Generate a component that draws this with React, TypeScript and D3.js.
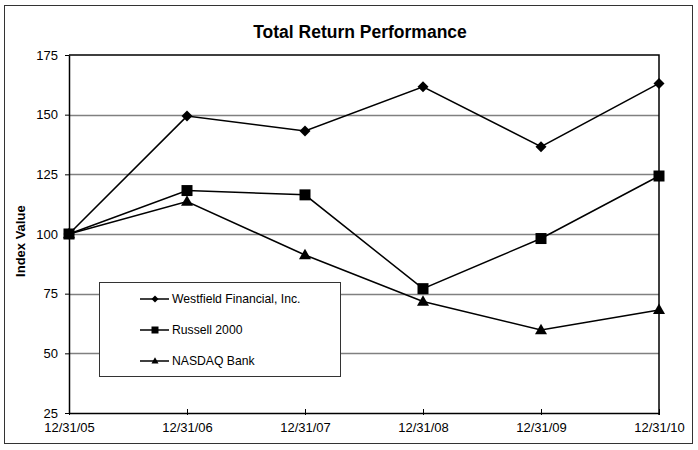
import * as d3 from "d3";
import { useEffect, useRef } from "react";

const dates = ["12/31/05", "12/31/06", "12/31/07", "12/31/08", "12/31/09", "12/31/10"];
const westfield = [100, 149.4, 143.2, 161.7, 136.6, 163.1];
const russell = [100, 118.2, 116.4, 77.1, 98.1, 124.3];
const nasdaqBank = [100, 113.6, 91.2, 71.7, 59.8, 68.2];
const yTicks = [25, 50, 75, 100, 125, 150, 175];

const seriesList = [
  { name: "Westfield Financial, Inc.", values: westfield, shape: "diamond" },
  { name: "Russell 2000", values: russell, shape: "square" },
  { name: "NASDAQ Bank", values: nasdaqBank, shape: "triangle" },
];

// marker path; r is half width
const marker = (shape: string, r: number) => {
  if (shape === "diamond") return `M0,${-r}L${r},0L0,${r}L${-r},0Z`;
  if (shape === "square") return `M${-r},${-r}H${r}V${r}H${-r}Z`;
  const h = r * 1.75;
  return `M0,${-h * 0.6}L${r},${h * 0.4}L${-r},${h * 0.4}Z`;
};

const markerSize: Record<string, number> = { diamond: 5.5, square: 5.5, triangle: 6 };

const App = () => {
  const svgRef = useRef<SVGSVGElement | null>(null);

  useEffect(() => {
    const width = 698;
    const height = 450;
    const margin = { top: 55, right: 39, bottom: 37, left: 69 };
    const font = "Liberation Sans, Arial, sans-serif";

    d3.select(svgRef.current).selectAll("*").remove();

    const svg = d3
      .select(svgRef.current)
      .attr("width", width)
      .attr("height", height)
      .style("font-family", font);

    // outer frame
    svg
      .append("rect")
      .attr("x", 4.5)
      .attr("y", 5.5)
      .attr("width", 688)
      .attr("height", 438)
      .attr("fill", "white")
      .attr("stroke", "#333")
      .attr("stroke-width", 1);

    svg
      .append("text")
      .attr("x", 360)
      .attr("y", 37.5)
      .attr("text-anchor", "middle")
      .attr("font-size", 17.5)
      .attr("font-weight", "bold")
      .text("Total Return Performance");

    const x = d3
      .scalePoint()
      .domain(dates)
      .range([margin.left, width - margin.right]);

    const y = d3
      .scaleLinear()
      .domain([25, 175])
      .range([height - margin.bottom, margin.top]);

    // gridlines
    svg
      .append("g")
      .selectAll("line")
      .data(yTicks.filter((t) => t !== 25 && t !== 175))
      .join("line")
      .attr("x1", margin.left)
      .attr("x2", width - margin.right)
      .attr("y1", (d) => Math.round(y(d)) + 0.5)
      .attr("y2", (d) => Math.round(y(d)) + 0.5)
      .attr("stroke", "#808080")
      .attr("stroke-width", 1.5);

    // plot frame top / right
    svg
      .append("path")
      .attr("d", `M${margin.left},${y(175)}H${width - margin.right}V${y(25) + 2}`)
      .attr("fill", "none")
      .attr("stroke", "black")
      .attr("stroke-width", 1.5);

    const xAxis = svg
      .append("g")
      .attr("transform", `translate(0,${y(25)})`)
      .call(d3.axisBottom(x).tickSizeInner(-4).tickSizeOuter(0).tickPadding(10));
    xAxis.select(".domain").attr("stroke-width", 1.5);
    xAxis
      .selectAll(".tick line")
      .attr("y2", 2)
      .attr("y1", -4);
    xAxis
      .selectAll("text")
      .attr("font-family", font)
      .attr("font-size", 13)
      .attr("fill", "black");

    const yAxis = svg
      .append("g")
      .attr("transform", `translate(${margin.left},0)`)
      .call(d3.axisLeft(y).tickValues(yTicks).tickSize(4).tickSizeOuter(0).tickPadding(7));
    yAxis.select(".domain").attr("stroke-width", 1.5);
    yAxis
      .selectAll("text")
      .attr("font-family", font)
      .attr("font-size", 13)
      .attr("fill", "black");

    svg
      .append("text")
      .attr("transform", `translate(25,${y(97)}) rotate(-90)`)
      .attr("text-anchor", "middle")
      .attr("font-size", 13)
      .attr("font-weight", "bold")
      .text("Index Value");

    const line = d3
      .line<number>()
      .x((_, i) => x(dates[i]) || 0)
      .y((d) => y(d));

    seriesList.forEach((s) => {
      svg
        .append("path")
        .datum(s.values)
        .attr("d", line)
        .attr("fill", "none")
        .attr("stroke", "black")
        .attr("stroke-width", 1.5);

      svg
        .append("g")
        .selectAll("path")
        .data(s.values)
        .join("path")
        .attr("transform", (d, i) => `translate(${x(dates[i])},${y(d)})`)
        .attr("d", marker(s.shape, markerSize[s.shape]))
        .attr("fill", "black");
    });

    // legend
    const legend = svg.append("g").attr("transform", "translate(99,282)");
    legend
      .append("rect")
      .attr("x", 0.5)
      .attr("y", 0.5)
      .attr("width", 241)
      .attr("height", 94)
      .attr("fill", "white")
      .attr("stroke", "#333");

    seriesList.forEach((s, i) => {
      const g = legend.append("g").attr("transform", `translate(0,${17 + i * 31})`);
      g.append("line")
        .attr("x1", 41)
        .attr("x2", 70)
        .attr("stroke", "black")
        .attr("stroke-width", 1.5);
      g.append("path")
        .attr("transform", "translate(56,0)")
        .attr("d", marker(s.shape, 3.5))
        .attr("fill", "black");
      g.append("text")
        .attr("x", 73)
        .attr("dy", "0.36em")
        .attr("font-size", 12.2)
        .text(s.name);
    });
  }, []);

  return <svg ref={svgRef} style={{ position: "absolute", left: 0, top: 0 }} />;
};

export default App;
